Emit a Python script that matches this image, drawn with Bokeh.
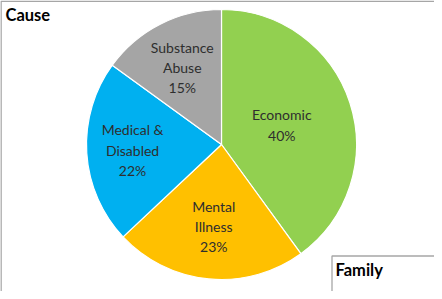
import numpy as np
from bokeh.plotting import figure
from bokeh.models import Range1d, ColumnDataSource
from bokeh.core.properties import value
from bokeh.embed import file_html
from bokeh.resources import INLINE

# data (clockwise from 12 o'clock)
causes = ["Economic", "Mental\nIllness", "Medical &\nDisabled", "Substance\nAbuse"]
shares = [40, 23, 22, 15]
colors = ["#92D050", "#FFC000", "#00B0F0", "#A5A5A5"]
title_text = "Cause"
box_text = "Family"

W, H = 434, 291
PX0, PY0 = 8, 8  # page offset of figure


def X(px):
    return px - PX0


def Y(py):
    return H - (py - PY0)


p = figure(width=W, height=H, output_backend="svg", toolbar_location=None,
           x_range=Range1d(0, W), y_range=Range1d(0, H),
           min_border=0, min_border_left=0, min_border_right=0,
           min_border_top=0, min_border_bottom=0)
p.axis.visible = False
p.grid.visible = False
p.outline_line_color = None
p.background_fill_color = "white"
p.border_fill_color = "white"

# chart area border
p.line([X(8.5), X(8.5), X(442)], [Y(299), Y(8.8), Y(8.8)], line_color="#a6a6a6", line_width=1.6)

# pie
cx, cy, r = X(229), Y(152), 135
frac = np.array(shares, dtype=float) / sum(shares)
ends = np.cumsum(frac)
starts = ends - frac
start_ang = np.pi / 2 - starts * 2 * np.pi
end_ang = np.pi / 2 - ends * 2 * np.pi
src = ColumnDataSource(dict(start=start_ang, end=end_ang, color=colors))
p.wedge(x=cx, y=cy, radius=r, start_angle="start", end_angle="end", direction="clock",
        fill_color="color", line_color="white", line_width=1.2, source=src)

# labels
label_r = [0.47, 0.61, 0.66, 0.64]
mid = (start_ang + end_ang) / 2
for i, name in enumerate(causes):
    lx = cx + label_r[i] * r * np.cos(mid[i])
    ly = cy + label_r[i] * r * np.sin(mid[i])
    txt = f"{name}\n{shares[i]}%"
    p.text(x=[lx], y=[ly], text=[txt], text_align="center", text_baseline="middle",
           text_font=value("Lato"), text_font_size="14px", text_color="#2e2e2e",
           text_line_height=1.2)

# title
p.text(x=[X(13)], y=[Y(22)], text=[title_text], text_align="left", text_baseline="middle",
       text_font=value("Lato"), text_font_size="16.5px", text_font_style="bold", text_color="black")

# family box
p.quad(left=X(339.5), right=X(446), top=Y(263.5), bottom=Y(305), fill_color="white",
       line_color="#a6a6a6", line_width=1.3)
p.text(x=[X(343)], y=[Y(277)], text=[box_text], text_align="left", text_baseline="middle",
       text_font=value("Lato"), text_font_size="16.5px", text_font_style="bold", text_color="black")

open("out.html", "w").write(file_html(p, INLINE))
